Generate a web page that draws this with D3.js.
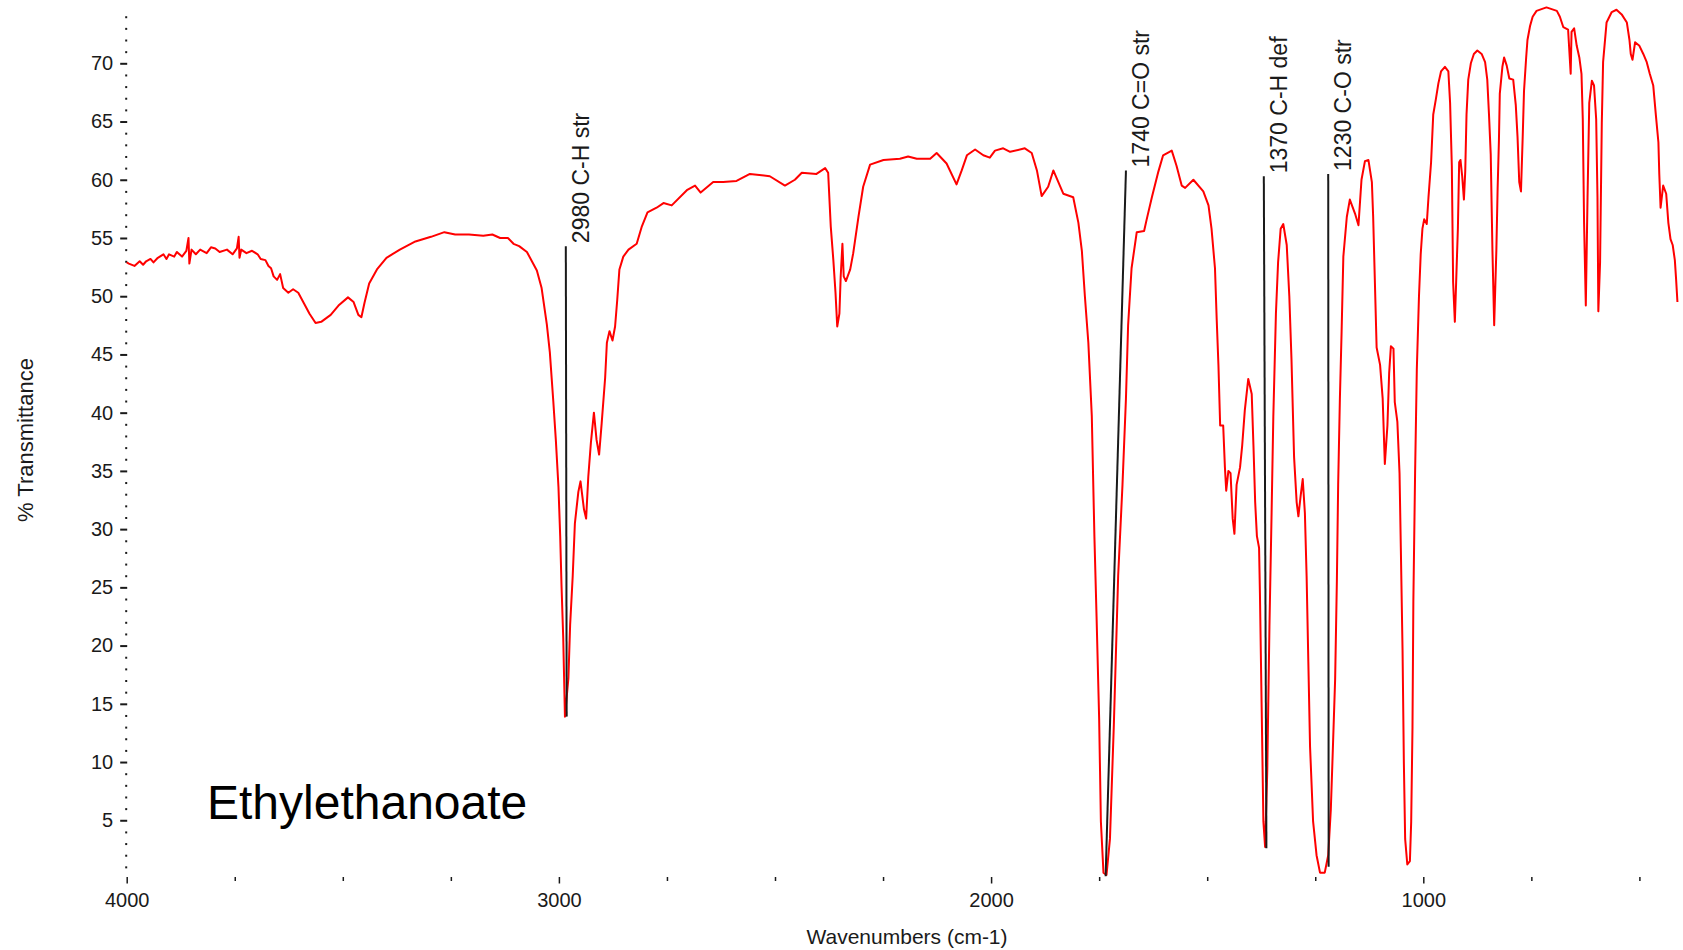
<!DOCTYPE html>
<html>
<head>
<meta charset="utf-8">
<title>Ethylethanoate IR spectrum</title>
<script src="https://cdn.jsdelivr.net/npm/d3@7"></script>
<style>
  body { margin: 0; background: #fff; }
  text { font-family: "Liberation Sans", Arial, sans-serif; fill: #1a1a1a; }
  .axis path.domain { display: none; }
  .axis line { stroke: #1a1a1a; }
</style>
</head>
<body>
<script>
// [wavenumber cm-1, % transmittance]
const spectrum = [
  [4000,52.9],[3995,52.8],[3982,52.6],[3970,53.0],[3962,52.7],[3955,53.0],[3945,53.2],[3938,52.9],[3928,53.3],[3915,53.6],
  [3908,53.2],[3902,53.6],[3890,53.4],[3884,53.8],[3872,53.4],[3862,53.9],[3857,55.0],[3855,52.8],[3850,54.0],[3840,53.6],
  [3830,54.0],[3815,53.7],[3805,54.2],[3795,54.1],[3785,53.8],[3768,54.0],[3755,53.6],[3745,54.1],[3741,55.1],[3739,53.3],
  [3735,54.0],[3723,53.7],[3710,53.9],[3697,53.6],[3690,53.2],[3679,53.1],[3672,52.6],[3666,52.4],[3660,51.7],[3652,51.4],
  [3645,51.9],[3638,50.7],[3626,50.3],[3615,50.6],[3603,50.3],[3590,49.4],[3577,48.5],[3563,47.7],[3550,47.8],[3528,48.4],
  [3510,49.2],[3488,49.9],[3475,49.5],[3464,48.4],[3457,48.2],[3450,49.4],[3439,51.1],[3421,52.3],[3399,53.3],[3368,54.0],
  [3332,54.7],[3296,55.1],[3265,55.5],[3240,55.3],[3208,55.3],[3175,55.2],[3154,55.3],[3136,55.0],[3118,55.0],[3105,54.5],
  [3092,54.3],[3074,53.8],[3051,52.2],[3040,50.7],[3028,47.6],[3021,45.2],[3013,41.0],[3007,37.6],[3001,33.6],[2997,29.4],
  [2994,25.2],[2990,20.7],[2986,13.9],[2978,17.2],[2974,21.8],[2968,26.0],[2963,30.5],[2955,33.2],[2950,34.1],[2942,31.7],
  [2937,30.9],[2932,34.5],[2926,37.4],[2919,40.0],[2913,37.7],[2907,36.4],[2901,39.1],[2893,43.0],[2889,46.0],[2883,47.0],
  [2876,46.2],[2870,47.4],[2865,49.7],[2860,52.3],[2851,53.4],[2839,54.0],[2820,54.5],[2808,56.0],[2795,57.2],[2774,57.6],
  [2758,58.0],[2739,57.8],[2704,59.1],[2685,59.5],[2672,58.9],[2643,59.8],[2620,59.8],[2589,59.9],[2558,60.5],[2512,60.3],
  [2477,59.5],[2454,60.0],[2438,60.6],[2404,60.5],[2384,61.0],[2377,60.6],[2371,56.0],[2365,53.1],[2360,50.3],[2356,47.4],
  [2351,48.5],[2348,51.7],[2344,54.5],[2341,51.7],[2336,51.3],[2326,52.3],[2319,53.7],[2307,56.8],[2296,59.4],[2280,61.3],
  [2249,61.7],[2211,61.8],[2192,62.0],[2172,61.8],[2141,61.8],[2126,62.3],[2103,61.4],[2080,59.6],[2068,60.8],[2056,62.1],
  [2037,62.6],[2018,62.1],[2003,61.9],[1991,62.5],[1972,62.7],[1956,62.4],[1922,62.7],[1906,62.3],[1894,60.8],[1883,58.6],
  [1868,59.4],[1856,60.8],[1833,58.8],[1810,58.5],[1798,56.3],[1790,53.9],[1783,50.0],[1775,46.0],[1767,39.7],[1761,29.4],
  [1756,22.5],[1750,13.7],[1746,4.9],[1740,0.5],[1733,0.3],[1725,3.4],[1716,13.2],[1706,26.0],[1696,33.8],[1688,41.2],
  [1683,47.5],[1675,52.4],[1663,55.5],[1646,55.6],[1640,56.6],[1628,58.5],[1613,60.7],[1602,62.1],[1582,62.5],[1571,61.2],
  [1559,59.5],[1551,59.3],[1532,60.0],[1509,59.0],[1497,57.8],[1490,55.8],[1482,52.4],[1478,48.0],[1474,44.1],[1470,38.9],
  [1463,38.9],[1459,35.3],[1456,33.3],[1451,35.0],[1446,34.8],[1441,30.9],[1437,29.6],[1432,33.8],[1424,35.3],[1419,37.2],
  [1413,40.2],[1405,42.9],[1397,41.6],[1393,37.2],[1389,32.3],[1385,29.4],[1380,28.4],[1378,24.5],[1374,14.7],[1370,4.9],
  [1366,2.7],[1361,9.3],[1356,21.6],[1351,31.4],[1347,39.7],[1341,48.5],[1336,52.9],[1330,55.8],[1324,56.2],[1316,54.4],
  [1310,50.0],[1305,44.6],[1299,36.2],[1293,32.3],[1289,31.1],[1284,32.8],[1279,34.3],[1274,31.4],[1270,26.0],[1266,18.6],
  [1262,11.3],[1255,4.9],[1247,2.0],[1239,0.5],[1228,0.5],[1220,2.0],[1214,5.9],[1210,10.3],[1204,17.1],[1200,25.5],
  [1197,33.8],[1193,41.2],[1189,47.0],[1185,53.4],[1177,56.8],[1170,58.3],[1158,57.1],[1150,56.1],[1143,60.0],[1135,61.6],
  [1127,61.7],[1119,59.8],[1116,56.8],[1108,45.6],[1100,44.1],[1094,41.2],[1089,35.6],[1083,38.9],[1079,43.4],[1075,45.7],
  [1069,45.5],[1066,40.9],[1060,39.2],[1055,34.8],[1052,28.4],[1048,19.6],[1045,10.0],[1042,3.4],[1037,1.2],[1031,1.5],
  [1028,4.9],[1025,13.0],[1023,23.8],[1019,34.8],[1015,43.7],[1010,50.0],[1006,53.6],[1002,55.8],[998,56.6],[992,56.2],
  [988,58.5],[982,61.5],[977,65.6],[971,66.9],[965,68.3],[959,69.3],[950,69.7],[942,69.3],[938,66.6],[934,61.2],
  [931,51.2],[927,47.8],[924,51.2],[920,55.8],[917,61.5],[914,61.7],[910,60.3],[906,58.3],[903,60.7],[900,65.6],
  [896,68.6],[890,70.0],[883,70.8],[875,71.1],[865,70.8],[857,70.1],[852,68.6],[848,65.6],[844,62.2],[840,53.9],
  [836,47.5],[831,53.9],[828,59.3],[825,63.4],[823,67.4],[817,69.7],[813,70.5],[807,69.8],[801,68.7],[792,68.6],
  [786,66.4],[782,63.7],[778,59.8],[774,59.0],[770,63.7],[767,67.6],[762,70.5],[759,72.0],[753,73.2],[747,74.0],
  [738,74.5],[715,74.8],[691,74.5],[684,74.0],[676,73.1],[665,72.9],[659,69.1],[657,72.7],[651,73.0],[645,71.5],
  [639,70.5],[634,69.1],[631,65.2],[628,56.3],[624,49.2],[620,58.5],[616,66.6],[610,68.5],[605,68.1],[600,65.2],
  [597,58.5],[595,48.7],[591,52.9],[587,64.9],[584,70.1],[576,73.5],[564,74.4],[553,74.6],[541,74.2],[529,73.5],
  [523,72.0],[520,70.8],[516,70.3],[510,71.8],[500,71.5],[491,70.8],[483,70.1],[476,69.1],[468,68.1],[462,65.6],
  [456,63.2],[454,60.5],[451,57.6],[445,59.5],[438,58.8],[433,56.3],[428,54.9],[423,54.4],[418,53.1],[415,51.4],
  [412,49.5]
];

// peak annotations: label, line top (wn, %T), line bottom at the band (wn, %T)
const peakLabels = ["2980 C-H str", "1740 C=O str", "1370 C-H def", "1230 C-O str"];
const labelWn = [2984, 1688, 1369, 1220];
const labelT = [54.3, 60.8, 60.3, 60.5];
const peakWn = [2982, 1735, 1363, 1219];
const peakT = [13.9, 0.2, 2.6, 1.0];

const xMajor = [4000, 3000, 2000, 1000];
const xMinor = [3750, 3500, 3250, 2750, 2500, 2250, 1750, 1500, 1250, 750, 500];
const yMajor = d3.range(5, 71, 5);
const yMinor = d3.range(1, 75).filter(function (v) { return v % 5 !== 0; });

const sampleName = "Ethylethanoate";

let width = 1683,
    height = 950;

let x = d3.scaleLinear().domain([4000, 1000]).range([126.7, 1423.3]);
let y = d3.scaleLinear().domain([0, 70]).range([878.5, 63.3]);

let svg = d3.select("body").append("svg")
    .attr("width", width)
    .attr("height", height);

svg.append("rect")
    .attr("width", width)
    .attr("height", height)
    .attr("fill", "#fff");

/* y axis: dots every 1 %, dashes + labels every 5 % */
let yAxisX = x(4000) + 0.5;

svg.append("g")
    .attr("class", "axis")
    .attr("transform", "translate(" + yAxisX + ",0)")
    .call(d3.axisLeft(y).tickValues(yMinor).tickSize(2).tickFormat(""))
    .selectAll("line").attr("stroke-width", 2);

let yAx = svg.append("g")
    .attr("class", "axis")
    .attr("transform", "translate(" + yAxisX + ",0)")
    .call(d3.axisLeft(y).tickValues(yMajor).tickSize(7).tickPadding(7));
yAx.selectAll("line").attr("stroke-width", 2);
yAx.selectAll("text")
    .style("font-size", "20px")
    .attr("font-family", null);

/* x axis */
let xAxisY = y(0) - 1.5;

svg.append("g")
    .attr("class", "axis")
    .attr("transform", "translate(0," + xAxisY + ")")
    .call(d3.axisBottom(x).tickValues(xMinor).tickSize(4).tickFormat(""))
    .selectAll("line").attr("stroke-width", 1.5);

let xAx = svg.append("g")
    .attr("class", "axis")
    .attr("transform", "translate(0," + xAxisY + ")")
    .call(d3.axisBottom(x).tickValues(xMajor).tickSize(6.5).tickPadding(9.5).tickFormat(d3.format("d")));
xAx.selectAll("line").attr("stroke-width", 1.5);
xAx.selectAll("text")
    .style("font-size", "20px")
    .attr("font-family", null);

// axis titles
svg.append("text")
    .attr("transform", "translate(33,440) rotate(-90)")
    .attr("text-anchor", "middle")
    .style("font-size", "22px")
    .text("% Transmittance");

svg.append("text")
    .attr("x", 907)
    .attr("y", 944)
    .attr("text-anchor", "middle")
    .style("font-size", "21px")
    .text("Wavenumbers (cm-1)");

/* spectrum */
let line = d3.line()
    .x(function (d) { return x(d[0]); })
    .y(function (d) { return y(d[1]); });

svg.append("path")
    .datum(spectrum)
    .attr("fill", "none")
    .attr("stroke", "#ff0000")
    .attr("stroke-width", 2)
    .attr("stroke-linejoin", "round")
    .attr("d", line);

/* peak marker lines and labels */
let peaks = peakLabels.map(function (label, i) {
    return { label: label, wn: labelWn[i], t: labelT[i], pwn: peakWn[i], pt: peakT[i] };
});

svg.selectAll("line.peak")
    .data(peaks)
    .enter().append("line")
    .attr("class", "peak")
    .attr("x1", function (d) { return x(d.wn); })
    .attr("y1", function (d) { return y(d.t); })
    .attr("x2", function (d) { return x(d.pwn); })
    .attr("y2", function (d) { return y(d.pt); })
    .attr("stroke", "#1a1a1a")
    .attr("stroke-width", 2);

svg.selectAll("text.peak")
    .data(peaks)
    .enter().append("text")
    .attr("class", "peak")
    .attr("transform", function (d) {
        return "translate(" + (x(d.wn) + 23) + "," + (y(d.t) - 3) + ") rotate(-90)";
    })
    .style("font-size", "23px")
    .text(function (d) { return d.label; });

// sample name
svg.append("text")
    .attr("x", 207)
    .attr("y", 819)
    .style("font-size", "48px")
    .style("fill", "#000")
    .text(sampleName);
</script>
</body>
</html>
